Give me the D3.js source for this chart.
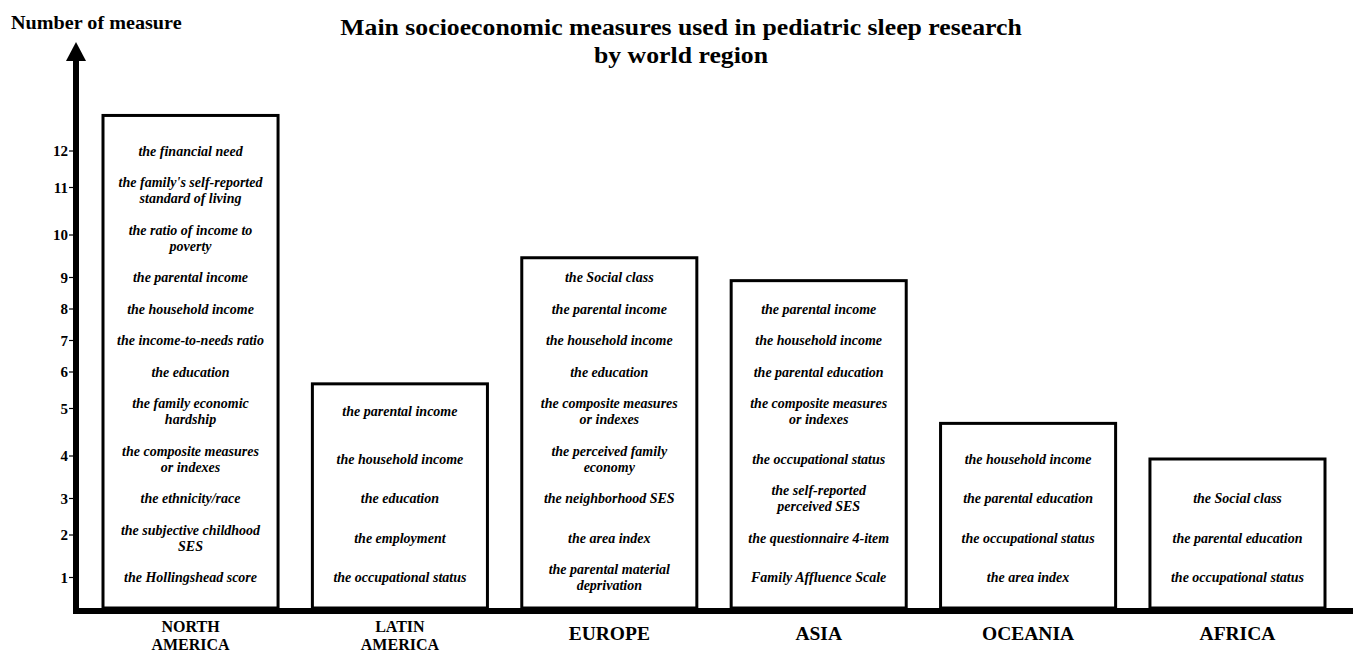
<!DOCTYPE html>
<html>
<head>
<meta charset="utf-8">
<script src="https://cdn.jsdelivr.net/npm/d3@7"></script>
<style>
  html, body { margin: 0; padding: 0; background: #fff; }
  svg { display: block; }
  text { font-family: "Liberation Serif", "DejaVu Serif", serif; }
</style>
</head>
<body>
<svg id="chart" width="1361" height="654"></svg>
<script>
// ---------------- DATA ----------------
const regions = ["NORTH\nAMERICA", "LATIN\nAMERICA", "EUROPE", "ASIA", "OCEANIA", "AFRICA"];

const northAmerica = [
  "the financial need",
  "the family's self-reported\nstandard of living",
  "the ratio of income to\npoverty",
  "the parental income",
  "the household income",
  "the income-to-needs ratio",
  "the education",
  "the family economic\nhardship",
  "the composite measures\nor indexes",
  "the ethnicity/race",
  "the subjective childhood\nSES",
  "the Hollingshead score"
];
const latinAmerica = [
  "the parental income",
  "the household income",
  "the education",
  "the employment",
  "the occupational status"
];
const europe = [
  "the Social class",
  "the parental income",
  "the household income",
  "the education",
  "the composite measures\nor indexes",
  "the perceived family\neconomy",
  "the neighborhood SES",
  "the area index",
  "the parental material\ndeprivation"
];
const asia = [
  "the parental income",
  "the household income",
  "the parental education",
  "the composite measures\nor indexes",
  "the occupational status",
  "the self-reported\nperceived SES",
  "the questionnaire 4-item",
  "Family Affluence Scale"
];
const oceania = [
  "the household income",
  "the parental education",
  "the occupational status",
  "the area index"
];
const africa = [
  "the Social class",
  "the parental education",
  "the occupational status"
];
const measures = [northAmerica, latinAmerica, europe, asia, oceania, africa];

// box heights as read on the y axis
const boxTops = [12.9, 5.7, 9.5, 8.9, 4.75, 4.0];

const yTicks = [1, 2, 3, 4, 5, 6, 7, 8, 9, 10, 11, 12];
const titleLines = ["Main socioeconomic measures used in pediatric sleep research", "by world region"];
const yTitle = "Number of measure";

// ---------------- LAYOUT ----------------
const svg = d3.select("#chart");
const baseY = 608;
const lineH = 16, gap = 15.5, stackTop = 143;
const stretch = 1.12; // horizontal stretch of the title lettering

// vertical positions derived from the stacked North America list
const naLines = northAmerica.map(s => s.split("\n").length);
let cur = stackTop;
const centersTopDown = naLines.map(l => { const c = cur + l * lineH / 2; cur += l * lineH + gap; return c; });
const centersByRank = centersTopDown.slice().reverse(); // rank 1 .. 12
const y = d3.scaleLinear()
  .domain([0].concat(yTicks))
  .range([baseY].concat(centersByRank));

const x = d3.scaleBand()
  .domain(regions)
  .range([103, 1325])
  .paddingInner(0.164)
  .paddingOuter(0);

// title
svg.append("g").attr("transform", `translate(681,0) scale(${stretch},1)`)
  .selectAll("text").data(titleLines).join("text")
  .attr("x", 0).attr("y", (d, i) => 35 + i * 28)
  .attr("text-anchor", "middle")
  .attr("font-weight", "bold").attr("font-size", 23)
  .text(d => d);

svg.append("g").attr("transform", `translate(11,0) scale(${stretch},1)`)
  .append("text")
  .attr("x", 0).attr("y", 29)
  .attr("font-weight", "bold").attr("font-size", 18)
  .text(yTitle);

// boxes
const boxes = svg.append("g");
regions.forEach((r, i) => {
  const x0 = x(r), bw = x.bandwidth();
  boxes.append("rect")
    .attr("x", x0).attr("y", y(boxTops[i]))
    .attr("width", bw).attr("height", baseY - y(boxTops[i]))
    .attr("fill", "#fff").attr("stroke", "#000").attr("stroke-width", 3);

  const items = measures[i];
  const n = items.length;
  const g = boxes.append("g");
  items.forEach((item, j) => {
    const rank = n - j;
    const lines = item.split("\n");
    const c = y(rank);
    lines.forEach((ln, k) => {
      g.append("text")
        .attr("x", x0 + bw / 2)
        .attr("y", c + (k - (lines.length - 1) / 2) * lineH)
        .attr("dy", "0.35em")
        .attr("text-anchor", "middle")
        .attr("font-weight", "bold").attr("font-style", "italic")
        .attr("font-size", 14)
        .text(ln);
    });
  });

  // category label
  const labLines = r.split("\n");
  const two = labLines.length > 1;
  labLines.forEach((ln, k) => {
    svg.append("text")
      .attr("x", x0 + bw / 2)
      .attr("y", (two ? 626 : 633) + k * 18)
      .attr("dy", "0.35em")
      .attr("text-anchor", "middle")
      .attr("font-weight", "bold").attr("font-size", two ? 16 : 19.5)
      .text(ln);
  });
});

// y axis ticks
const tickG = svg.append("g");
yTicks.forEach(t => {
  const ty = y(t) - 3 * (naLines[naLines.length - t] - 1);
  tickG.append("line").attr("x1", 69).attr("x2", 74).attr("y1", ty).attr("y2", ty)
    .attr("stroke", "#000").attr("stroke-width", 1.2);
  tickG.append("text").attr("x", 68).attr("y", ty).attr("dy", "0.35em")
    .attr("text-anchor", "end")
    .attr("font-weight", "bold").attr("font-size", 15)
    .text(t);
});

// axis line + arrow
svg.append("line").attr("x1", 76).attr("x2", 76).attr("y1", 58).attr("y2", 614)
  .attr("stroke", "#000").attr("stroke-width", 6);
svg.append("path").attr("d", d3.line()([[76, 42], [86, 61], [66, 61]]) + "Z").attr("fill", "#000");
// baseline
svg.append("line").attr("x1", 73).attr("x2", 1353).attr("y1", 611).attr("y2", 611)
  .attr("stroke", "#000").attr("stroke-width", 6);
</script>
</body>
</html>
